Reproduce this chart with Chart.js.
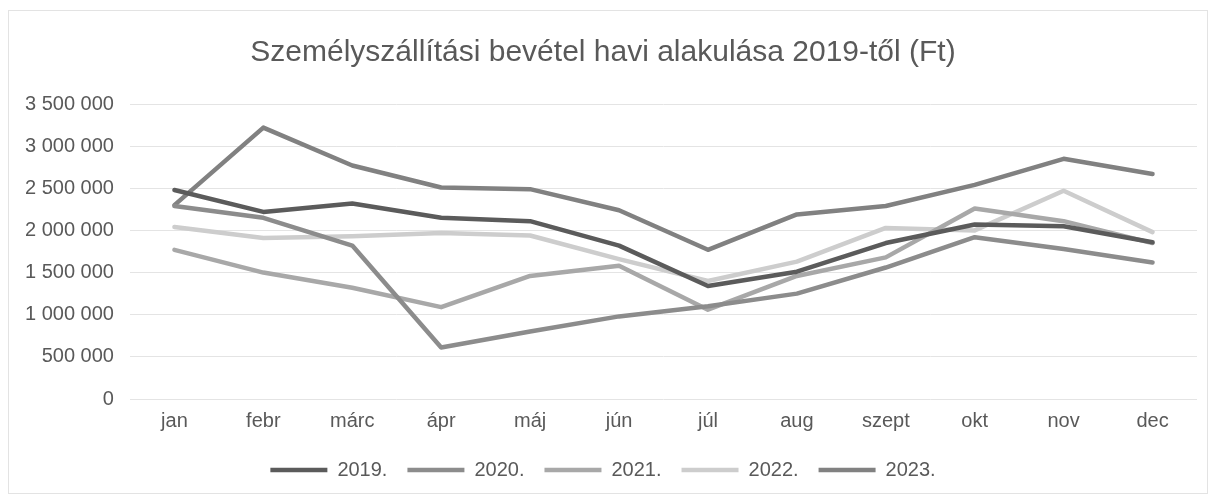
<!DOCTYPE html>
<html>
<head>
<meta charset="utf-8">
<script src="https://cdn.jsdelivr.net/npm/chart.js"></script>
<style>
  html, body { margin: 0; padding: 0; background: #fff; }
  #wrap { position: absolute; left: 8px; top: 10px; width: 1198px; height: 482px; border: 1px solid #e3e3e3; }
  #chart { position: absolute; left: 0; top: 0; }
</style>
</head>
<body>
<div id="wrap"><canvas id="chart"></canvas></div>
<script>
  // data (Ft)
  const months = ["jan", "febr", "márc", "ápr", "máj", "jún", "júl", "aug", "szept", "okt", "nov", "dec"];
  const yearLabels = ["2019.", "2020.", "2021.", "2022.", "2023."];
  const v2019 = [2480000, 2220000, 2320000, 2150000, 2110000, 1820000, 1340000, 1510000, 1850000, 2070000, 2050000, 1860000];
  const v2020 = [2290000, 2150000, 1820000, 610000, 800000, 980000, 1100000, 1250000, 1560000, 1920000, 1780000, 1620000];
  const v2021 = [1770000, 1500000, 1320000, 1090000, 1460000, 1580000, 1060000, 1460000, 1680000, 2260000, 2110000, 1850000];
  const v2022 = [2040000, 1910000, 1930000, 1970000, 1940000, 1660000, 1400000, 1630000, 2030000, 2000000, 2470000, 1980000];
  const v2023 = [2300000, 3220000, 2770000, 2510000, 2490000, 2240000, 1770000, 2190000, 2290000, 2540000, 2850000, 2670000];
  const lineColors = ["#5b5b5b", "#8c8c8c", "#a8a8a8", "#cdcdcd", "#818181"];

  function fmtFt(v) {
    return String(v).replace(/\B(?=(\d{3})+(?!\d))/g, " ");
  }

  const series = [v2019, v2020, v2021, v2022, v2023];
  const datasets = series.map((vals, i) => ({
    label: yearLabels[i],
    data: vals,
    borderColor: lineColors[i],
    backgroundColor: lineColors[i],
    borderWidth: 4.5,
    pointRadius: 0,
    tension: 0,
    borderCapStyle: "round",
    borderJoinStyle: "round",
  }));

  const canvas = document.getElementById("chart");
  canvas.width = 1198;
  canvas.height = 482;
  canvas.style.width = "1198px";
  canvas.style.height = "482px";

  new Chart(canvas.getContext("2d"), {
    type: "line",
    data: { labels: months, datasets: datasets },
    options: {
      responsive: false,
      animation: false,
      layout: { padding: { left: 0, right: 10, top: 12, bottom: 3 } },
      plugins: {
        title: {
          display: true,
          text: "Személyszállítási bevétel havi alakulása 2019-től (Ft)",
          color: "#595959",
          font: { family: "Liberation Sans", size: 30, weight: "normal" },
          padding: { top: 12, bottom: 33 },
        },
        legend: {
          position: "bottom",
          labels: {
            usePointStyle: true,
            pointStyle: "line",
            pointStyleWidth: 57,
            color: "#595959",
            font: { family: "Liberation Sans", size: 20 },
            padding: 20,
          },
        },
        tooltip: { enabled: false },
      },
      scales: {
        x: {
          offset: true,
          grid: { display: false },
          border: { display: false },
          ticks: { color: "#595959", font: { family: "Liberation Sans", size: 20 }, padding: 2 },
          // leave room between the month labels and the legend
          afterFit: (scale) => { scale.height = 41; },
        },
        y: {
          min: 0,
          max: 3500000,
          ticks: {
            stepSize: 500000,
            color: "#595959",
            font: { family: "Liberation Sans", size: 20 },
            padding: 16,
            callback: (v) => fmtFt(v),
          },
          grid: { color: "#e4e4e4", lineWidth: 1, drawTicks: false },
          border: { display: false },
        },
      },
    },
  });
</script>
</body>
</html>
